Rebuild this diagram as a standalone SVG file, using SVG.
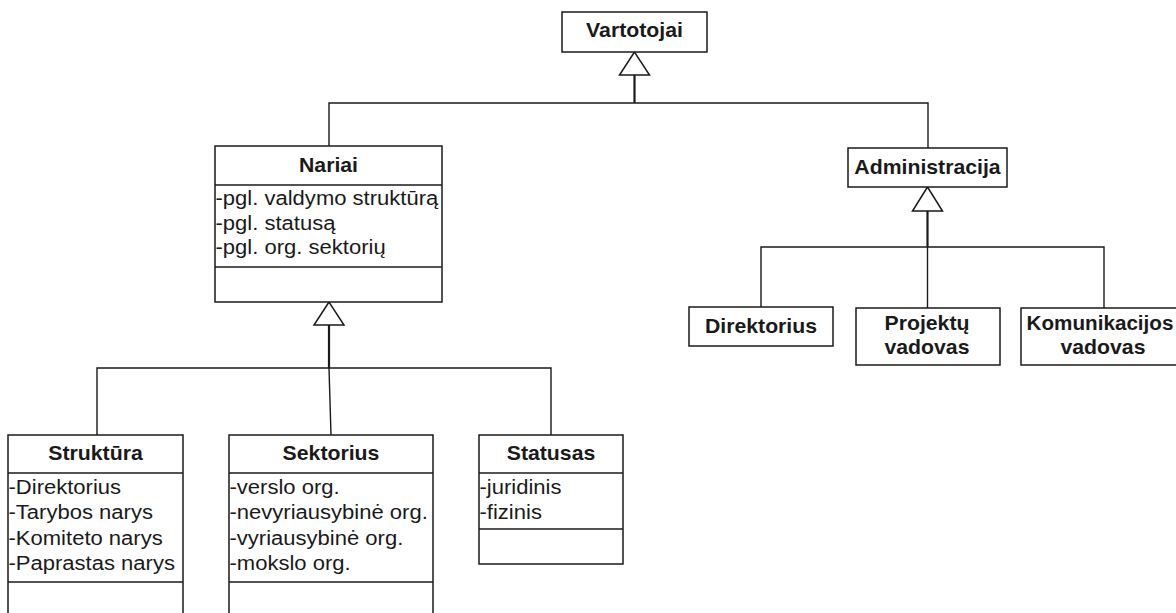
<svg xmlns="http://www.w3.org/2000/svg" width="1176" height="613" viewBox="0 0 1176 613">
<style>
.box{fill:#fff;stroke:#1a1a1a;stroke-width:1.5}
.div{stroke:#1a1a1a;stroke-width:1.5;fill:none}
.ln{stroke:#1a1a1a;stroke-width:1.4;fill:none}
.trunk{stroke:#1a1a1a;stroke-width:2.2;fill:none}
.tri{fill:#fff;stroke:#1a1a1a;stroke-width:1.5;stroke-linejoin:miter}
text{font-family:"Liberation Sans",Arial,sans-serif;font-size:19.5px;fill:#1a1a1a}
.t{font-weight:bold;text-anchor:middle}
</style>
<rect width="1176" height="613" fill="#fff"/>
<g id="connectors">
  <polyline class="trunk" points="634.5,75 634.5,103"/>
  <polyline class="ln" points="329,146 329,103 928,103 928,148"/>
  <polygon class="tri" points="634.5,52 619.5,75 649.5,75"/>
  <polyline class="trunk" points="329,325 329,368"/>
  <polyline class="ln" points="329,368 331,435"/>
  <polyline class="ln" points="97,435 97,368 551,368 551,435"/>
  <polygon class="tri" points="329,302 314,325 344,325"/>
  <polyline class="trunk" points="927.5,211 927.5,247"/>
  <polyline class="ln" points="927.5,247 927.5,308"/>
  <polyline class="ln" points="761,307 761,247 1104,247 1104,308"/>
  <polygon class="tri" points="927.5,187 912.5,211 942.5,211"/>
</g>
<g id="vartotojai">
  <rect class="box" x="562" y="12" width="145" height="40"/>
  <text class="t" transform="translate(634.5,37) scale(1.09,1)">Vartotojai</text>
</g>
<g id="nariai">
  <rect class="box" x="215" y="146" width="227" height="156"/>
  <line class="div" x1="215" y1="185" x2="442" y2="185"/>
  <line class="div" x1="215" y1="267" x2="442" y2="267"/>
  <text class="t" transform="translate(328.5,172) scale(1.09,1)">Nariai</text>
  <text transform="translate(215.5,205) scale(1.13,1)">-pgl. valdymo struktūrą</text>
  <text transform="translate(215.5,229.5) scale(1.13,1)">-pgl. statusą</text>
  <text transform="translate(215.5,254) scale(1.13,1)">-pgl. org. sektorių</text>
</g>
<g id="administracija">
  <rect class="box" x="848" y="148" width="159" height="39"/>
  <text class="t" transform="translate(927.5,174.3) scale(1.09,1)">Administracija</text>
</g>
<g id="direktorius">
  <rect class="box" x="689" y="307" width="144" height="39"/>
  <text class="t" transform="translate(761,332.5) scale(1.09,1)">Direktorius</text>
</g>
<g id="projektu-vadovas">
  <rect class="box" x="856" y="308" width="144" height="57"/>
  <text class="t" transform="translate(927,329.5) scale(1.09,1)">Projektų</text>
  <text class="t" transform="translate(927,354) scale(1.09,1)">vadovas</text>
</g>
<g id="komunikacijos-vadovas">
  <rect class="box" x="1021" y="308" width="165" height="57"/>
  <text class="t" transform="translate(1100,329.5) scale(1.06,1)">Komunikacijos</text>
  <text class="t" transform="translate(1103,354) scale(1.09,1)">vadovas</text>
</g>
<g id="struktura">
  <rect class="box" x="8" y="435" width="175" height="190"/>
  <line class="div" x1="8" y1="473" x2="183" y2="473"/>
  <line class="div" x1="8" y1="582" x2="183" y2="582"/>
  <text class="t" transform="translate(95.5,460) scale(1.09,1)">Struktūra</text>
  <text transform="translate(8.5,493.5) scale(1.13,1)">-Direktorius</text>
  <text transform="translate(8.5,519) scale(1.13,1)">-Tarybos narys</text>
  <text transform="translate(8.5,544.5) scale(1.13,1)">-Komiteto narys</text>
  <text transform="translate(8.5,570) scale(1.13,1)">-Paprastas narys</text>
</g>
<g id="sektorius">
  <rect class="box" x="229" y="435" width="204" height="190"/>
  <line class="div" x1="229" y1="473" x2="433" y2="473"/>
  <line class="div" x1="229" y1="582" x2="433" y2="582"/>
  <text class="t" transform="translate(331,460) scale(1.09,1)">Sektorius</text>
  <text transform="translate(229.5,493.5) scale(1.13,1)">-verslo org.</text>
  <text transform="translate(229.5,519) scale(1.13,1)">-nevyriausybinė org.</text>
  <text transform="translate(229.5,544.5) scale(1.13,1)">-vyriausybinė org.</text>
  <text transform="translate(229.5,570) scale(1.13,1)">-mokslo org.</text>
</g>
<g id="statusas">
  <rect class="box" x="479" y="435" width="144" height="129"/>
  <line class="div" x1="479" y1="473" x2="623" y2="473"/>
  <line class="div" x1="479" y1="529" x2="623" y2="529"/>
  <text class="t" transform="translate(551,460) scale(1.09,1)">Statusas</text>
  <text transform="translate(479.5,493.5) scale(1.13,1)">-juridinis</text>
  <text transform="translate(479.5,519) scale(1.13,1)">-fizinis</text>
</g>
</svg>
